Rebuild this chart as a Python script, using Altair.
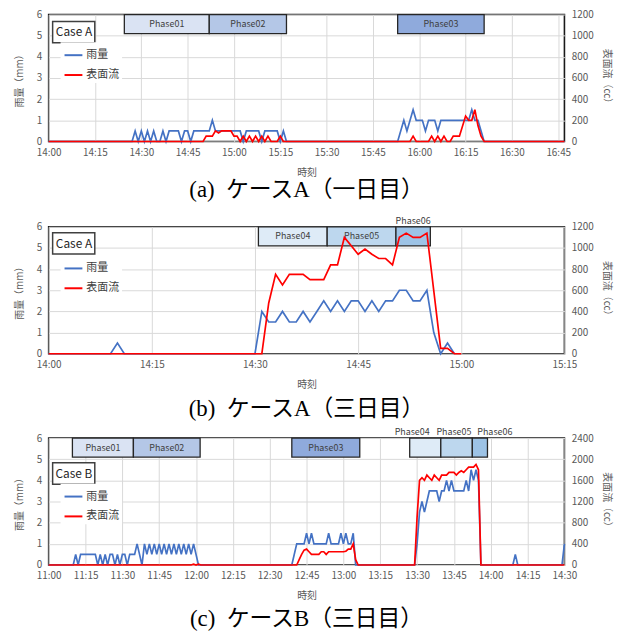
import altair as alt
import pandas as pd

# ---------------- data (minutes from panel start, value) ----------------
A_START = "14:00"
A_END_MIN = 167
A_RAIN = [(0, 0), (27, 0), (28, 0.5), (29, 0), (30, 0.5), (31, 0), (32, 0.5), (33, 0), (34, 0.5), (35, 0),
          (36, 0), (37, 0.5), (38, 0), (39, 0.5), (42, 0.5), (43, 0), (44, 0.5), (45, 0.5), (46, 0), (47, 0.5),
          (52, 0.5), (53, 1.0), (54, 0.5), (62, 0.5), (63, 0), (64, 0.5), (68, 0.5), (69, 0), (70, 0.5),
          (74, 0.5), (75, 0), (76, 0.5), (77, 0), (113, 0), (115, 1.0), (116, 0.5), (118, 1.5), (119, 1.0),
          (121, 1.0), (122, 0.5), (123, 1.0), (125, 1.0), (126, 0.5), (127, 1.0), (136, 1.0), (137, 1.5),
          (138, 1.0), (139, 1.0), (141, 0), (167, 0)]
A_FLOW = [(0, 0), (50, 0), (51, 50), (53, 50), (54, 100), (55, 80), (56, 100), (59, 100), (60, 50), (61, 50),
          (62, 0), (63, 50), (64, 0), (65, 50), (66, 0), (67, 50), (68, 0), (69, 50), (70, 0), (71, 50), (72, 0),
          (74, 0), (75, 50), (76, 0), (117, 0), (118, 50), (119, 0), (123, 0), (124, 50), (125, 0), (126, 50),
          (127, 0), (128, 50), (129, 0), (130, 0), (131, 50), (133, 50), (135, 240), (136, 200), (137, 200),
          (138, 300), (139, 150), (140, 50), (141, 0), (167, 0)]

B_START = "14:00"
B_END_MIN = 75
B_RAIN = [(0, 0), (9, 0), (10, 0.5), (11, 0), (30, 0), (31, 2.0), (32, 1.5), (33, 1.5), (34, 2.0), (35, 1.5),
          (36, 1.5), (37, 2.0), (38, 1.5), (39, 2.0), (40, 2.5), (41, 2.0), (42, 2.5), (43, 2.0), (44, 2.5),
          (45, 2.5), (46, 2.0), (47, 2.5), (48, 2.0), (49, 2.5), (50, 2.5), (51, 3.0), (52, 3.0), (53, 2.5),
          (54, 2.5), (55, 3.0), (56, 1.0), (57, 0), (58, 0.5), (59, 0)]
B_FLOW = [(0, 0), (31, 0), (32, 480), (33, 750), (34, 650), (35, 750), (37, 750), (38, 700), (40, 700),
          (41, 840), (42, 840), (43, 1100), (44, 1020), (45, 940), (46, 990), (47, 940), (48, 900), (49, 900),
          (50, 840), (51, 1100), (52, 1140), (53, 1100), (54, 1100), (55, 1140), (57, 50), (58, 50), (59, 0),
          (60, 0)]

C_START = "11:00"
C_END_MIN = 210
C_RAIN = [(0, 0), (10, 0), (11, 0.5), (12, 0), (13, 0.5), (19, 0.5), (20, 0), (21, 0.5), (22, 0), (23, 0.5),
          (24, 0), (25, 0.5), (26, 0.5), (27, 0), (28, 0.5), (29, 0), (30, 0.5), (31, 0.5), (32, 0), (33, 0.5),
          (35, 0.5), (36, 1.0), (37, 0.5), (38, 0), (39, 1.0), (40, 0.5), (41, 1.0), (42, 0.5), (43, 1.0),
          (44, 0.5), (45, 1.0), (46, 0.5), (47, 1.0), (48, 0.5), (49, 1.0), (50, 0.5), (51, 1.0), (52, 0.5),
          (53, 1.0), (54, 0.5), (55, 1.0), (56, 0.5), (57, 1.0), (58, 0.5), (59, 1.0), (61, 0),
          (99, 0), (101, 1.0), (104, 1.0), (105, 1.5), (106, 1.0), (107, 1.5), (108, 1.0), (113, 1.0),
          (114, 1.5), (115, 1.0), (118, 1.0), (119, 1.5), (120, 1.0), (121, 1.5), (122, 1.0), (123, 1.0),
          (124, 1.5), (125, 0), (149, 0), (150, 1.0), (151, 2.5), (152, 3.0), (153, 2.5), (154, 3.0),
          (155, 3.5), (158, 3.5), (159, 3.0), (160, 3.5), (161, 3.5), (162, 4.0), (163, 3.5), (164, 4.0),
          (165, 3.5), (169, 3.5), (170, 4.0), (171, 3.5), (172, 4.5), (173, 4.0), (174, 4.5), (175, 4.0),
          (176, 0), (189, 0), (190, 0.5), (191, 0), (209, 0), (210, 1.0)]
C_FLOW = [(0, 0), (58, 0), (59, 15), (60, 0), (61, 15), (62, 0), (101, 0), (102, 100), (103, 200), (104, 280),
          (105, 300), (106, 250), (107, 200), (110, 200), (111, 250), (112, 250), (113, 200), (114, 250),
          (120, 250), (121, 260), (122, 300), (123, 300), (124, 400), (125, 100), (126, 0), (149, 0),
          (150, 900), (151, 1600), (152, 1650), (153, 1600), (154, 1700), (155, 1650), (156, 1600),
          (157, 1700), (158, 1650), (159, 1600), (160, 1700), (162, 1700), (163, 1750), (165, 1750),
          (166, 1700), (167, 1750), (168, 1780), (169, 1750), (170, 1800), (171, 1850), (173, 1850),
          (174, 1900), (175, 1800), (176, 0), (210, 0)]

A_PHASES = ["Phase01", "Phase02", "Phase03"]
A_PH_START = ["14:24:30", "14:52", "15:53"]
A_PH_END = ["14:52", "15:17", "16:21"]
A_PH_LABEL_AT = ["", "", ""]

B_PHASES = ["Phase04", "Phase05", "Phase06"]
B_PH_START = ["14:30:30", "14:40:30", "14:50:30"]
B_PH_END = ["14:40:30", "14:50:30", "14:55:30"]
B_PH_LABEL_AT = ["", "", "14:53"]

C_PHASES = ["Phase01", "Phase02", "Phase03", "Phase04", "Phase05", "Phase06"]
C_PH_START = ["11:09:40", "11:34:30", "12:39", "13:27", "13:39:40", "13:52:30"]
C_PH_END = ["11:34:30", "12:01:40", "13:06:40", "13:39:40", "13:52:30", "13:58:40"]
C_PH_LABEL_AT = ["", "", "", "13:28", "13:45", "14:01:40"]

PHASE_NAMES = ["Phase01", "Phase02", "Phase03", "Phase04", "Phase05", "Phase06"]
PHASE_FILLS = ["#dae3f3", "#b4c7e7", "#8faadc", "#deebf7", "#bdd7ee", "#9dc3e6"]

SERIES = ["雨量", "表面流"]
SERIES_COLORS = ["#4472c4", "#ff0000"]

FONT = "Noto Sans CJK JP"
GRAY = "#595959"


def to_min(s):
    p = [int(x) for x in s.split(":")]
    return p[0] * 60 + p[1] + (p[2] / 60 if len(p) > 2 else 0)


LABEL_EXPR = "floor(datum.value/60) + ':' + (datum.value % 60 < 10 ? '0' : '') + (datum.value % 60)"


def panel(start, end_min, rain, flow, flow_max, flow_step, names, ph_start, ph_end, label_at,
          case_text, case_y, legend_y, caption, cap_offset):
    t0 = to_min(start)
    lo, hi = t0, t0 + end_min
    xticks = list(range(int(lo), int(hi) + 1, 15))
    xscale = alt.Scale(domain=[lo, hi], nice=False, zero=False)
    xaxis = alt.Axis(values=xticks, labelExpr=LABEL_EXPR, title="時刻", grid=True, gridColor="#d9d9d9",
                     ticks=False, domain=False, labelPadding=6, titlePadding=10, labelFlush=False,
                     labelOverlap=False)

    def X(field):
        return alt.X(field, type="quantitative", scale=xscale, axis=xaxis)

    yscale = alt.Scale(domain=[0, 6], nice=False)
    yaxis = alt.Axis(values=list(range(0, 7)), title="雨量（mm）", grid=True, gridColor="#d9d9d9",
                     ticks=False, domain=False, labelPadding=7, titlePadding=12,
                     labelOverlap=False, labelFlush=False)

    rain_df = pd.DataFrame({"t": [t0 + m for m, _ in rain], "v": [v for _, v in rain], "s": SERIES[0]})
    flow_df = pd.DataFrame({"t": [t0 + m for m, _ in flow], "v": [v for _, v in flow], "s": SERIES[1]})
    ph_df = pd.DataFrame({"name": names, "a": [to_min(s) for s in ph_start], "b": [to_min(s) for s in ph_end]})
    ph_df["mid"] = (ph_df["a"] + ph_df["b"]) / 2
    ph_df["lab"] = [to_min(s) if s else None for s in label_at]
    inside = ph_df[ph_df["lab"].isna()]
    above = ph_df[ph_df["lab"].notna()]

    color = alt.Color("s:N", scale=alt.Scale(domain=SERIES, range=SERIES_COLORS),
                      legend=alt.Legend(orient="none", legendX=12, legendY=legend_y, title=None,
                                        symbolType="stroke", symbolSize=324, symbolStrokeWidth=2,
                                        labelFontSize=11, labelColor="#404040", labelFont=FONT,
                                        fillColor="white", padding=3, rowPadding=5, labelOffset=3))

    rain_line = alt.Chart(rain_df).mark_line(strokeWidth=1.7).encode(
        x=X("t"), y=alt.Y("v:Q", scale=yscale, axis=yaxis), color=color)
    rects = alt.Chart(ph_df).mark_rect(stroke="#262626", strokeWidth=1.3).encode(
        x=X("a"), x2="b",
        y=alt.YDatum(6, type="quantitative", scale=yscale, axis=yaxis), y2=alt.Y2Datum(5.1),
        fill=alt.Fill("name:N", scale=alt.Scale(domain=PHASE_NAMES, range=PHASE_FILLS), legend=None))
    txt_in = alt.Chart(inside).mark_text(fontSize=9, color="#404040", font=FONT).encode(
        x=X("mid"), y=alt.YDatum(5.55, type="quantitative", scale=yscale, axis=yaxis), text="name:N")
    txt_above = alt.Chart(above).mark_text(fontSize=9, color="#404040", font=FONT).encode(
        x=X("lab"), y=alt.YDatum(6.27, type="quantitative", scale=yscale, axis=yaxis), text="name:N")
    case_df = pd.DataFrame({"c": [case_text]})
    case_box = alt.Chart(case_df).mark_rect(fill="white", stroke="#404040", strokeWidth=1.5).encode(
        x=alt.value(4), x2=alt.value(46.5), y=alt.value(case_y), y2=alt.value(case_y + 21.5))
    case_txt = alt.Chart(case_df).mark_text(fontSize=12, color="#262626", font=FONT).encode(
        x=alt.value(25.5), y=alt.value(case_y + 11), text="c:N")

    layers = [rain_line, rects, txt_in]
    if len(above):
        layers.append(txt_above)
    layers += [case_box, case_txt]
    left = alt.layer(*layers)

    right = alt.Chart(flow_df).mark_line(strokeWidth=1.7).encode(
        x=X("t"),
        y=alt.Y("v:Q", scale=alt.Scale(domain=[0, flow_max], nice=False),
                axis=alt.Axis(orient="right", values=list(range(0, flow_max + 1, flow_step)), format="d",
                              title="表面流（cc）", grid=False, ticks=False, domain=False,
                              labelPadding=7, titlePadding=8, labelOverlap=False, labelFlush=False)),
        color=color)

    return alt.layer(left, right).resolve_scale(y="independent").properties(
        width=520, height=128,
        title=alt.Title(caption, orient="bottom", anchor="middle", fontSize=23, fontWeight="normal",
                        font="Liberation Serif, Noto Sans CJK JP", color="black", offset=cap_offset))


pa = panel(A_START, A_END_MIN, A_RAIN, A_FLOW, 1200, 200, A_PHASES, A_PH_START, A_PH_END, A_PH_LABEL_AT,
           "Case A", 7, 28, "(a)\u2002ケースA（一日目）", 2)
pb = panel(B_START, B_END_MIN, B_RAIN, B_FLOW, 1200, 200, B_PHASES, B_PH_START, B_PH_END, B_PH_LABEL_AT,
           "Case A", 6, 29, "(b)\u2002ケースA（三日目）", 9)
pc = panel(C_START, C_END_MIN, C_RAIN, C_FLOW, 2400, 400, C_PHASES, C_PH_START, C_PH_END, C_PH_LABEL_AT,
           "Case B", 25, 46, "(c)\u2002ケースB（三日目）", 8)

top = alt.vconcat(pa, pb, spacing=13).resolve_scale(color="independent", fill="independent").resolve_legend(
    color="independent")
chart = alt.vconcat(top, pc, spacing=5).resolve_scale(color="independent", fill="independent").resolve_legend(
    color="independent").properties(
    padding={"left": 5, "top": -2, "right": 5, "bottom": 0}
).configure_view(stroke="#1a1a1a", strokeWidth=1.6).configure_axis(
    labelFont=FONT, titleFont=FONT, labelColor=GRAY, titleColor=GRAY, labelFontSize=10, titleFontSize=10,
    titleFontWeight="normal")

chart.save("out.html", embed_options={"renderer": "svg", "actions": False})
